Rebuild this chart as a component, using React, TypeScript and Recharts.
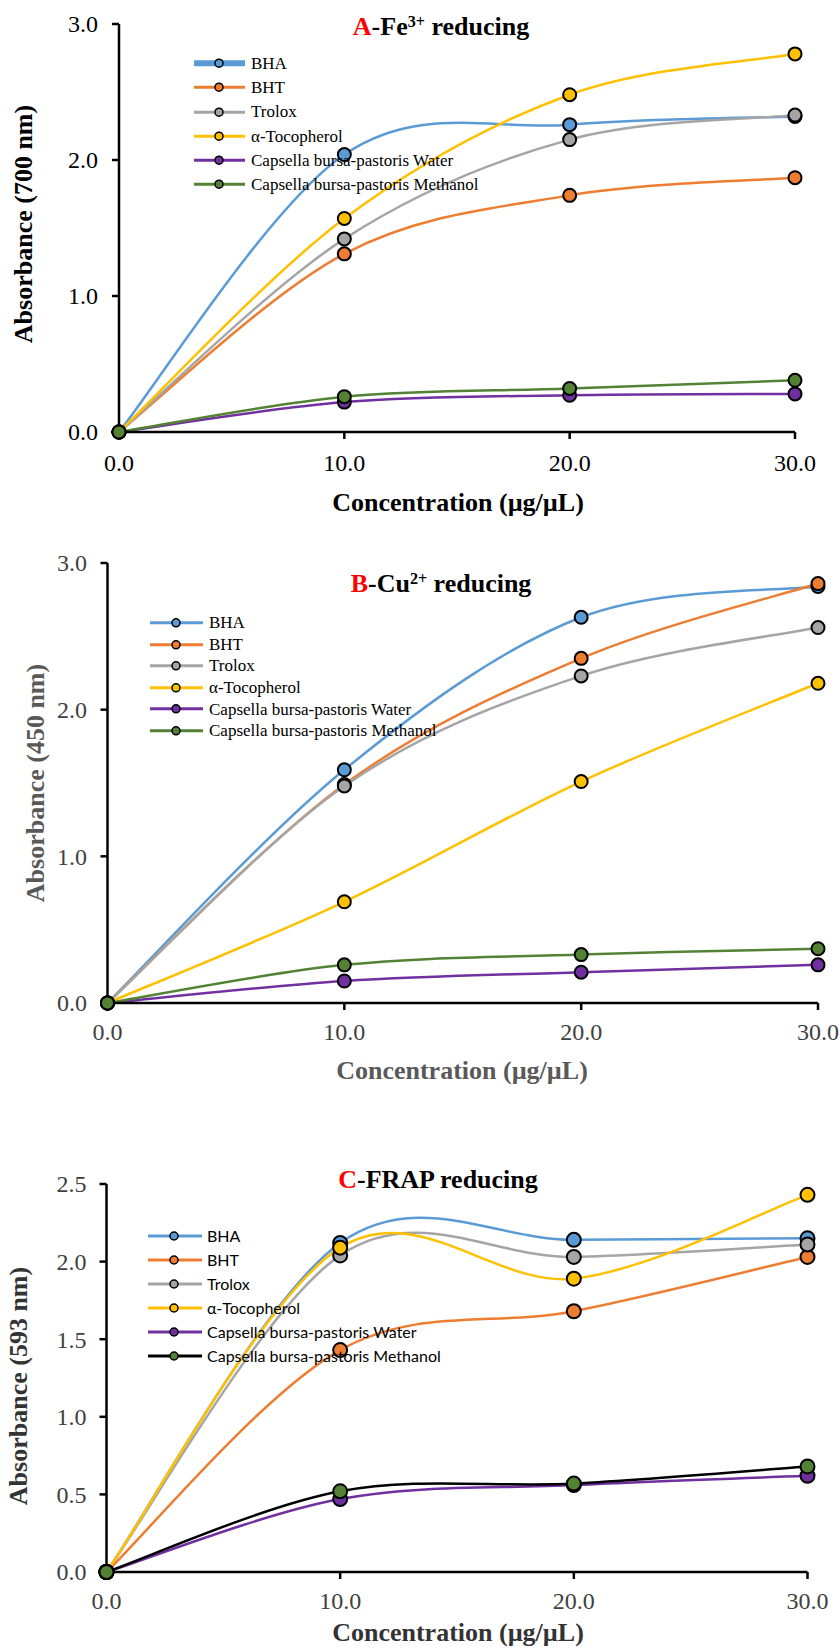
import React from 'react';
import { LineChart, Line, XAxis, YAxis, Legend } from 'recharts';

const concentrations = [0, 10, 20, 30];
const seriesNames = ['BHA', 'BHT', 'Trolox', 'α-Tocopherol', 'Capsella bursa-pastoris Water', 'Capsella bursa-pastoris Methanol'];
const seriesKeys = ['bha', 'bht', 'trolox', 'toco', 'water', 'methanol'];
const seriesColors = ['#5B9BD5', '#ED7D31', '#A5A5A5', '#FFC000', '#7030A0', '#548235'];

// A - Fe3+ reducing (700 nm)
const feBha = [0, 2.04, 2.26, 2.32];
const feBht = [0, 1.31, 1.74, 1.87];
const feTrolox = [0, 1.42, 2.15, 2.33];
const feToco = [0, 1.57, 2.48, 2.78];
const feWater = [0, 0.22, 0.27, 0.28];
const feMethanol = [0, 0.26, 0.32, 0.38];

// B - Cu2+ reducing (450 nm)
const cuBha = [0, 1.59, 2.63, 2.84];
const cuBht = [0, 1.49, 2.35, 2.86];
const cuTrolox = [0, 1.48, 2.23, 2.56];
const cuToco = [0, 0.69, 1.51, 2.18];
const cuWater = [0, 0.15, 0.21, 0.26];
const cuMethanol = [0, 0.26, 0.33, 0.37];

// C - FRAP reducing (593 nm)
const frapBha = [0, 2.12, 2.14, 2.15];
const frapBht = [0, 1.43, 1.68, 2.03];
const frapTrolox = [0, 2.04, 2.03, 2.11];
const frapToco = [0, 2.09, 1.89, 2.43];
const frapWater = [0, 0.47, 0.56, 0.62];
const frapMethanol = [0, 0.52, 0.57, 0.68];

const concTicks = [0, 10, 20, 30];
const absTicks = [0, 1, 2, 3];
const frapTicks = [0, 0.5, 1, 1.5, 2, 2.5];

const SERIF = '"Liberation Serif", "Times New Roman", serif';

const buildRows = (cols: number[][]) =>
  concentrations.map((c, i) => {
    const row: any = { conc: c };
    seriesKeys.forEach((k, j) => (row[k] = cols[j][i]));
    return row;
  });

const feData = buildRows([feBha, feBht, feTrolox, feToco, feWater, feMethanol]);
const cuData = buildRows([cuBha, cuBht, cuTrolox, cuToco, cuWater, cuMethanol]);
const frapData = buildRows([frapBha, frapBht, frapTrolox, frapToco, frapWater, frapMethanol]);

// Excel-like smoothed line (Catmull-Rom through the points)
const excelSmooth = (context: any) => {
  let pts: number[][] = [];
  return {
    areaStart() {},
    areaEnd() {},
    lineStart() {
      pts = [];
    },
    point(x: number, y: number) {
      pts.push([+x, +y]);
    },
    lineEnd() {
      if (!pts.length) return;
      context.moveTo(pts[0][0], pts[0][1]);
      for (let i = 0; i < pts.length - 1; i++) {
        const p0 = pts[i - 1] || pts[i];
        const p1 = pts[i];
        const p2 = pts[i + 1];
        const p3 = pts[i + 2] || p2;
        context.bezierCurveTo(
          p1[0] + (p2[0] - p0[0]) / 6,
          p1[1] + (p2[1] - p0[1]) / 6,
          p2[0] - (p3[0] - p1[0]) / 6,
          p2[1] - (p3[1] - p1[1]) / 6,
          p2[0],
          p2[1]
        );
      }
    },
  };
};

const Txt = ({ x, y, rotate, style, children }: any) => (
  <div
    style={{
      position: 'absolute',
      left: x,
      top: y,
      transform: `translate(-50%, -50%)${rotate ? ' rotate(-90deg)' : ''}`,
      whiteSpace: 'nowrap',
      lineHeight: 1,
      fontFamily: SERIF,
      ...style,
    }}
  >
    {children}
  </div>
);

// tick text drawn by hand so the serif font sticks
const makeTick = (color: string, vertical: boolean) => (props: any) => {
  const { x, y, payload, textAnchor } = props;
  return (
    <text
      x={x}
      y={y}
      dy={vertical ? '0.35em' : '0.71em'}
      textAnchor={textAnchor}
      fill={color}
      style={{ fontFamily: SERIF, fontSize: 24 }}
    >
      {Number(payload.value).toFixed(1)}
    </text>
  );
};

const makeLegend = (opts: any) => () => (
  <div>
    {seriesNames.map((name, i) => (
      <div key={name} style={{ display: 'flex', alignItems: 'center', height: opts.rowHeight }}>
        <svg width={opts.textX} height={opts.rowHeight} style={{ display: 'block' }}>
          <line
            x1={0}
            x2={opts.lineEnd}
            y1={opts.rowHeight / 2}
            y2={opts.rowHeight / 2}
            stroke={opts.lineColors[i]}
            strokeWidth={opts.thickFirst && i === 0 ? 6 : 3}
          />
          <circle cx={opts.markerX} cy={opts.rowHeight / 2} r={4} fill={seriesColors[i]} stroke="#000" strokeWidth={1.5} />
        </svg>
        <span style={{ fontFamily: opts.font, fontSize: opts.fontSize, color: '#000', whiteSpace: 'nowrap', lineHeight: 1 }}>
          {name}
        </span>
      </div>
    ))}
  </div>
);

const Panel = ({ p }: any) => (
  <div style={{ position: 'absolute', left: 0, top: p.top, width: 839, height: p.height, fontFamily: SERIF }}>
    <LineChart width={839} height={p.height} data={p.data} margin={p.margin}>
      <XAxis
        dataKey="conc"
        type="number"
        domain={[0, 30]}
        ticks={concTicks}
        height={40}
        axisLine={{ stroke: '#000', strokeWidth: 2.5 }}
        tickLine={{ stroke: '#000', strokeWidth: 2.5 }}
        tickSize={7}
        tickMargin={p.xTickMargin}
        tick={makeTick(p.tickColor, false)}
        interval={0}
      />
      <YAxis
        type="number"
        domain={p.yDomain}
        ticks={p.yTicks}
        width={60}
        axisLine={{ stroke: '#000', strokeWidth: 2.5 }}
        tickLine={{ stroke: '#000', strokeWidth: 2.5 }}
        tickSize={7}
        tickMargin={p.yTickMargin}
        tick={makeTick(p.tickColor, true)}
        interval={0}
      />
      <Legend
        layout="vertical"
        align="center"
        verticalAlign="middle"
        content={makeLegend(p.legend)}
        wrapperStyle={{ left: p.legend.left, top: p.legend.top, width: 'auto', right: 'auto', bottom: 'auto' }}
      />
      {seriesKeys.map((k, i) => (
        <Line
          key={k}
          dataKey={k}
          name={seriesNames[i]}
          type={excelSmooth as any}
          stroke={p.lineColors[i]}
          strokeWidth={2.5}
          dot={{ r: p.dotR, fill: seriesColors[i], stroke: '#000', strokeWidth: 2 }}
          activeDot={false}
          isAnimationActive={false}
        />
      ))}
    </LineChart>
    <Txt x={p.title.x} y={p.title.y} style={{ fontSize: 26, fontWeight: 'bold', color: '#000' }}>
      {p.title.content}
    </Txt>
    <Txt x={p.xTitle.x} y={p.xTitle.y} style={{ fontSize: 26, fontWeight: 'bold', color: p.titleColor }}>
      Concentration (µg/µL)
    </Txt>
    <Txt x={p.yTitle.x} y={p.yTitle.y} rotate style={{ fontSize: 26, fontWeight: 'bold', color: p.titleColor }}>
      {p.yTitle.text}
    </Txt>
  </div>
);

const sup = { fontSize: '0.62em', verticalAlign: '0.55em' };

const panelA = {
  top: 0,
  height: 530,
  data: feData,
  margin: { top: 24, right: 44, bottom: 58, left: 59 },
  yDomain: [0, 3],
  yTicks: absTicks,
  tickColor: '#000',
  titleColor: '#000',
  xTickMargin: 15,
  yTickMargin: 14,
  dotR: 6.5,
  lineColors: seriesColors,
  legend: { left: 194, top: 51, rowHeight: 24.3, textX: 57, lineEnd: 51, markerX: 25, font: SERIF, fontSize: 17, thickFirst: true, lineColors: seriesColors },
  title: {
    x: 441,
    y: 27,
    content: (
      <>
        <span style={{ color: '#FF0000' }}>A</span>-Fe<span style={sup}>3+</span> reducing
      </>
    ),
  },
  xTitle: { x: 458, y: 503 },
  yTitle: { x: 24, y: 224, text: 'Absorbance (700 nm)' },
};

const panelB = {
  top: 530,
  height: 560,
  data: cuData,
  margin: { top: 33, right: 21, bottom: 47, left: 47.5 },
  yDomain: [0, 3],
  yTicks: absTicks,
  tickColor: '#404040',
  titleColor: '#595959',
  xTickMargin: 13,
  yTickMargin: 13.5,
  dotR: 6.5,
  lineColors: seriesColors,
  legend: { left: 150, top: 82, rowHeight: 21.6, textX: 59, lineEnd: 53, markerX: 26, font: SERIF, fontSize: 17, thickFirst: false, lineColors: seriesColors },
  title: {
    x: 441,
    y: 54,
    content: (
      <>
        <span style={{ color: '#FF0000' }}>B</span>-Cu<span style={sup}>2+</span> reducing
      </>
    ),
  },
  xTitle: { x: 462, y: 541 },
  yTitle: { x: 36, y: 253, text: 'Absorbance (450 nm)' },
};

const frapLineColors = ['#5B9BD5', '#ED7D31', '#A5A5A5', '#FFC000', '#7030A0', '#000000'];

const panelC = {
  top: 1090,
  height: 558,
  data: frapData,
  margin: { top: 94, right: 31.5, bottom: 36, left: 46.5 },
  yDomain: [0, 2.5],
  yTicks: frapTicks,
  tickColor: '#404040',
  titleColor: '#333333',
  xTickMargin: 12.5,
  yTickMargin: 13,
  dotR: 7,
  lineColors: frapLineColors,
  legend: { left: 148, top: 134, rowHeight: 24, textX: 59, lineEnd: 54, markerX: 26, font: 'Lato, "Open Sans", sans-serif', fontSize: 16, thickFirst: false, lineColors: frapLineColors },
  title: {
    x: 438,
    y: 90,
    content: (
      <>
        <span style={{ color: '#FF0000' }}>C</span>-FRAP reducing
      </>
    ),
  },
  xTitle: { x: 458, y: 543 },
  yTitle: { x: 19, y: 296, text: 'Absorbance (593 nm)' },
};

export default function App() {
  return (
    <div style={{ position: 'absolute', left: 0, top: 0, width: 839, height: 1648, background: '#fff', overflow: 'hidden' }}>
      <Panel p={panelA} />
      <Panel p={panelB} />
      <Panel p={panelC} />
    </div>
  );
}
